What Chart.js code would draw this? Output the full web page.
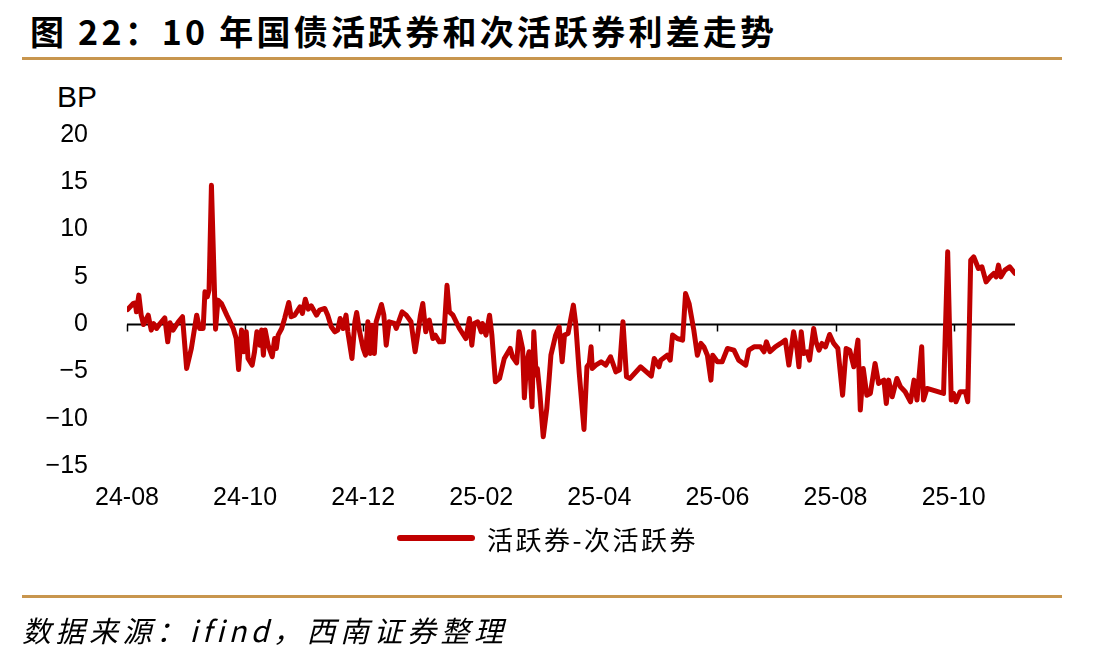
<!DOCTYPE html>
<html lang="zh">
<head>
<meta charset="utf-8">
<script src="https://cdn.jsdelivr.net/npm/chart.js@4.4.1/dist/chart.umd.min.js"></script>
<style>
  html, body { margin: 0; padding: 0; background: #fff; }
  body { width: 1106px; height: 661px; position: relative; overflow: hidden; }
  .title { position: absolute; left: 30px; top: 6px; font: bold 34px "Noto Sans CJK SC", sans-serif; letter-spacing: 3.2px; color: #000; white-space: nowrap; }
  .rule { position: absolute; left: 22px; width: 1040px; height: 3px; background: #C8964E; }
  .unit { position: absolute; left: 57px; top: 80px; font: 30px "Liberation Sans", Arial, sans-serif; color: #000; }
  .legend { position: absolute; left: 397px; top: 522px; height: 32px; display: flex; align-items: center; }
  .legend .swatch { width: 78px; height: 6px; border-radius: 3px; background: #C00000; margin-right: 12px; }
  .legend span { font: 26px "Noto Sans CJK SC", sans-serif; letter-spacing: 2.5px; color: #000; }
  .source { position: absolute; left: 22px; top: 608px; font: italic 29px "Noto Sans CJK SC", sans-serif; letter-spacing: 4.5px; color: #000; white-space: nowrap; }
  #wrap { position: absolute; left: 0; top: 0; width: 1106px; height: 661px; }
</style>
</head>
<body>
  <div class="title">图 22：10 年国债活跃券和次活跃券利差走势</div>
  <div class="rule" style="top:57px"></div>
  <div class="unit">BP</div>
  <div id="wrap"><canvas id="spreadChart" width="1106" height="661"></canvas></div>
  <div class="legend"><div class="swatch"></div><span>活跃券-次活跃券</span></div>
  <div class="rule" style="top:595px"></div>
  <div class="source">数据来源：ifind，西南证券整理</div>

<script>
  // ---- Data ----
  // x = months since 2024-08
  const tickLabels = ['24-08', '24-10', '24-12', '25-02', '25-04', '25-06', '25-08', '25-10'];
  const yTicks = [-15, -10, -5, 0, 5, 10, 15, 20];

  const months = [
    0.01, 0.11, 0.14, 0.16, 0.20, 0.24, 0.28, 0.36, 0.41, 0.45, 0.50, 0.56, 0.64, 0.69, 0.73, 0.78, 0.87, 0.94,
    1.01, 1.09, 1.18, 1.23, 1.29, 1.32, 1.36, 1.39, 1.43, 1.50, 1.54, 1.60, 1.69, 1.80, 1.85, 1.89, 1.94, 1.98,
    2.02, 2.05, 2.12, 2.16, 2.20, 2.25, 2.28, 2.31, 2.34, 2.39, 2.46, 2.50, 2.53, 2.56, 2.62, 2.67, 2.74, 2.78, 2.84, 2.93, 2.97,
    3.02, 3.07, 3.12, 3.21, 3.26, 3.35, 3.40, 3.46, 3.52, 3.57, 3.61, 3.66, 3.71, 3.74, 3.81, 3.86, 3.89, 3.94,
    4.00, 4.04, 4.08, 4.12, 4.15, 4.19, 4.22, 4.31, 4.35, 4.39, 4.44, 4.53, 4.56, 4.66, 4.73, 4.81, 4.88, 4.93, 4.97,
    5.01, 5.06, 5.09, 5.12, 5.18, 5.22, 5.29, 5.36, 5.42, 5.46, 5.52, 5.63, 5.74, 5.80, 5.84, 5.88, 5.94,
    6.00, 6.02, 6.08, 6.14, 6.18, 6.24, 6.31, 6.39, 6.49, 6.53, 6.60, 6.64, 6.70, 6.73, 6.77, 6.81, 6.86, 6.89, 6.93, 6.95, 6.99,
    7.05, 7.11, 7.15, 7.18, 7.26, 7.32, 7.37, 7.41, 7.47, 7.56, 7.60, 7.66, 7.74, 7.79, 7.83, 7.86, 7.88, 7.94,
    8.03, 8.11, 8.19, 8.28, 8.34, 8.40, 8.46, 8.52, 8.70, 8.88, 8.93,
    9.01, 9.04, 9.15, 9.20, 9.24, 9.32, 9.41, 9.46, 9.52, 9.60, 9.66, 9.72, 9.77, 9.83, 9.89, 9.92,
    10.00, 10.08, 10.17, 10.28, 10.36, 10.48, 10.53, 10.62, 10.73, 10.79, 10.83, 10.89, 10.98,
    11.07, 11.15, 11.21, 11.27, 11.29, 11.35, 11.38, 11.42, 11.46, 11.52, 11.56, 11.63, 11.67, 11.72, 11.77, 11.83, 11.90, 11.97,
    12.04, 12.12, 12.18, 12.24, 12.31, 12.38, 12.42, 12.47, 12.53, 12.59, 12.67, 12.73, 12.82, 12.86, 12.90, 12.96,
    13.04, 13.10, 13.18, 13.27, 13.33, 13.38, 13.46, 13.49, 13.55, 13.83, 13.90, 13.96,
    14.00, 14.04, 14.11, 14.20, 14.24, 14.29, 14.34, 14.42, 14.48, 14.55, 14.62, 14.68, 14.72, 14.76, 14.80, 14.87, 14.95,
    15.04
  ];

  const spread = [
    1.55, 2.2, 2.25, 1.3, 3.07, 0.95, -0.04, 0.95, -0.63, 0.07, -0.46, 0.07, 0.67, -1.87, 0.14, -0.63, 0.25, 0.78,
    -4.69, -2.57, 0.95, -0.46, -0.46, 3.42, 2.89, 3.59, 14.69, -0.53, 2.54, 2.18, 0.95, -0.46, -1.52, -4.79, -0.63, -2.92,
    -0.81, -3.63, -4.33, -2.92, -0.81, -2.22, -0.63, -3.28, -0.63, -2.22, -3.45, -1.52, -2.57, -1.16, -0.46, 0.6, 2.29, 0.78, 0.95, 1.83, 1.13,
    2.64, 1.59, 1.94, 0.95, 1.48, 1.66, 0.95, -0.28, -0.81, -0.63, 0.6, -0.46, 0.95, -0.81, -3.63, 0.25, 1.23, -0.81,
    -2.57, -3.28, 0.25, -3.1, -0.11, -3.1, 0.25, 2.08, 0.95, -2.22, 0.25, 0.07, -0.46, 1.3, 0.95, 0.25, -2.92, -0.81, 0.95,
    2.18, -0.81, 0.25, 0.42, -1.52, -1.16, -1.87, -1.87, 4.1, 1.3, 0.95, -0.46, -1.52, 0.6, -2.22, 0.07, 0.25,
    -0.81, 0.07, -1.16, 0.95, -1.16, -6.1, -5.74, -3.63, -2.57, -3.45, -4.09, -0.81, -2.57, -7.79, -3.98, -2.92, -8.74, -0.81, -5.39, -4.69, -7.15,
    -11.91, -8.91, -5.74, -3.28, -1.16, -0.28, -3.98, -1.16, -0.99, 2.01, 0.07, -5.21, -11.13, -4.51, -4.16, -2.4, -4.69, -4.33,
    -3.98, -4.33, -3.45, -5.04, -4.86, 0.25, -5.57, -5.74, -4.51, -5.5, -3.63,
    -4.51, -3.81, -3.28, -3.81, -1.16, -1.52, -1.69, 3.24, 2.18, -0.63, -3.28, -2.04, -2.4, -3.28, -5.92, -3.28,
    -3.98, -3.98, -2.57, -2.75, -3.81, -4.33, -2.75, -2.4, -2.4, -2.92, -1.87, -2.92, -2.4,
    -2.04, -1.69, -4.33, -1.69, -0.81, -2.75, -4.51, -0.81, -3.1, -2.92, -3.81, -0.46, -1.87, -2.75, -2.04, -2.4, -1.09, -2.04,
    -2.57, -7.51, -2.57, -2.75, -4.51, -1.69, -9.09, -4.69, -7.51, -7.33, -4.16, -6.27, -5.92, -8.39, -5.92, -7.68,
    -5.74, -6.62, -7.15, -8.21, -5.92, -8.03, -2.4, -8.03, -6.8, -7.33, 7.65, -8.03,
    -7.33, -8.21, -7.15, -7.15, -8.21, 6.77, 7.12, 5.89, 6.06, 4.47, 5.0, 5.36, 5.0, 6.24, 5.0, 5.71, 6.06,
    5.36
  ];

  // ---- Zero axis line with tick marks (drawn under the series) ----
  const zeroAxis = {
    id: 'zeroAxis',
    beforeDatasetsDraw(chart) {
      const { ctx, chartArea, scales: { x, y } } = chart;
      const y0 = Math.round(y.getPixelForValue(0)) + 0.5;
      ctx.save();
      ctx.strokeStyle = '#000';
      ctx.lineWidth = 2;
      ctx.beginPath();
      ctx.moveTo(chartArea.left, y0);
      ctx.lineTo(chartArea.right, y0);
      ctx.stroke();
      ctx.lineWidth = 1.5;
      x.ticks.forEach(t => {
        const px = Math.round(x.getPixelForValue(t.value)) + 0.5;
        ctx.beginPath();
        ctx.moveTo(px, y0);
        ctx.lineTo(px, y0 + 7);
        ctx.stroke();
      });
      ctx.restore();
    }
  };

  const tickFont = { family: '"Liberation Sans", Arial, sans-serif', size: 25 };

  new Chart(document.getElementById('spreadChart'), {
    type: 'line',
    data: {
      datasets: [{
        label: '活跃券-次活跃券',
        data: months.map((m, i) => ({ x: m, y: spread[i] })),
        borderColor: '#C00000',
        borderWidth: 5,
        pointRadius: 0,
        tension: 0,
        borderJoinStyle: 'round',
        borderCapStyle: 'round',
      }]
    },
    options: {
      responsive: false,
      animation: false,
      devicePixelRatio: 1,
      layout: { padding: { left: 0, top: 135, right: 91, bottom: 135 } },
      plugins: { legend: { display: false }, tooltip: { enabled: false } },
      scales: {
        x: {
          type: 'linear',
          min: 0,
          max: 15.04,
          grid: { display: false, drawTicks: false },
          border: { display: false },
          afterBuildTicks: (scale) => { scale.ticks = tickLabels.map((_, i) => ({ value: i * 2 })); },
          afterFit: (scale) => { scale.height = 60; },
          ticks: {
            color: '#000',
            font: tickFont,
            padding: 17,
            maxRotation: 0,
            autoSkip: false,
            callback: (v) => tickLabels[Math.round(v / 2)],
          }
        },
        y: {
          min: -15,
          max: 20,
          grid: { display: false, drawTicks: false },
          border: { display: false },
          afterBuildTicks: (scale) => { scale.ticks = yTicks.map(v => ({ value: v })); },
          afterFit: (scale) => { scale.width = 127; },
          ticks: {
            color: '#000',
            font: tickFont,
            padding: 39,
            callback: (v) => (v < 0 ? '\u2212' + Math.abs(v) : String(v)),
          }
        }
      }
    },
    plugins: [zeroAxis]
  });
</script>
</body>
</html>
